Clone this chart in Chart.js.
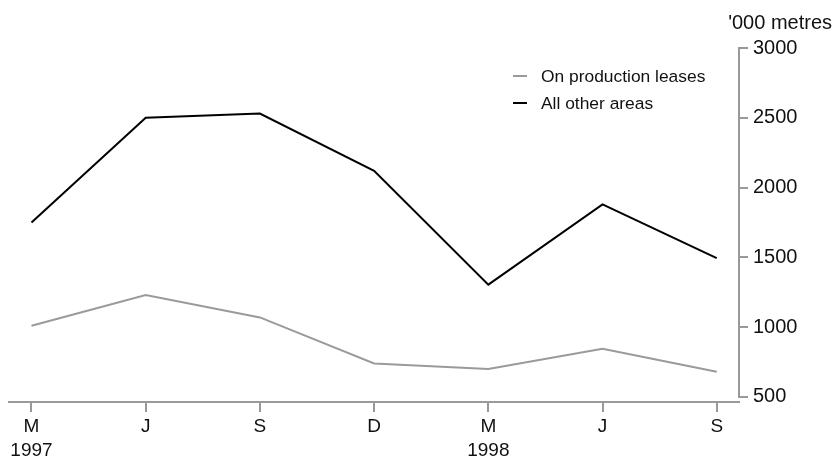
<!DOCTYPE html>
<html>
<head>
<meta charset="utf-8">
<script src="https://cdn.jsdelivr.net/npm/chart.js@4.4.0/dist/chart.umd.min.js"></script>
<style>
  html, body { margin: 0; padding: 0; background: #fff; }
  #wrap { width: 835px; height: 460px; position: relative; }
</style>
</head>
<body>
<div id="wrap"><canvas id="myChart"></canvas></div>
<script>
// chart data
var months = ["M", "J", "S", "D", "M", "J", "S"];
var years = ["1997", "", "", "", "1998", "", ""];
var leases = [1010, 1230, 1070, 740, 700, 845, 680];   // On production leases
var otherAreas = [1750, 2500, 2530, 2120, 1305, 1880, 1495]; // All other areas
var yTicks = [500, 1000, 1500, 2000, 2500, 3000];

var axisGrey = "#999999";
var fontName = "'Liberation Sans', Arial, sans-serif";

function toPoints(arr) // index -> x
{
  return arr.map(function(v, i) { return { x: i, y: v }; });
}

// legend drawn at top right of the plot area
var legendPlugin = {
  id: "boxLegend",
  afterDraw: function(chart) {
    var ctx = chart.ctx;
    var area = chart.chartArea;
    var x = area.right - 226;
    var y = 76;
    ctx.save();
    ctx.font = "17.4px " + fontName;
    ctx.textBaseline = "middle";
    chart.data.datasets.forEach(function(ds, i) {
      var yy = y + i * 27;
      ctx.strokeStyle = ds.borderColor;
      ctx.lineWidth = 2;
      ctx.beginPath();
      ctx.moveTo(x, yy);
      ctx.lineTo(x + 14, yy);
      ctx.stroke();
      ctx.fillStyle = "#111";
      ctx.fillText(ds.label, x + 28, yy + 1);
    });
    ctx.restore();
  }
};

// y axis line only from first to last tick
var yLinePlugin = {
  id: "yLine",
  afterDraw: function(chart) {
    var s = chart.scales.y;
    var ctx = chart.ctx;
    ctx.save();
    ctx.strokeStyle = axisGrey;
    ctx.lineWidth = 2;
    ctx.beginPath();
    ctx.moveTo(s.left, s.getPixelForValue(yTicks[yTicks.length - 1]) - 1);
    ctx.lineTo(s.left, s.getPixelForValue(yTicks[0]) + 1);
    ctx.stroke();
    ctx.restore();
  }
};

var ctx = document.getElementById("myChart");
var myChart = new Chart(ctx, {
  type: "line",
  data: {
    datasets: [{
      label: "On production leases",
      data: toPoints(leases),
      borderColor: "#9a9a9a",
      borderWidth: 2,
      pointRadius: 0,
      tension: 0
    }, {
      label: "All other areas",
      data: toPoints(otherAreas),
      borderColor: "#000000",
      borderWidth: 2,
      pointRadius: 0,
      tension: 0
    }]
  },
  options: {
    responsive: true,
    maintainAspectRatio: false,
    animation: false,
    layout: { padding: { left: 9, right: 3, top: 0, bottom: 0 } },
    plugins: {
      legend: { display: false },
      tooltip: { enabled: false },
      title: {
        display: true,
        text: "'000 metres",
        align: "end",
        color: "#111",
        font: { family: fontName, size: 20, weight: "normal" },
        padding: { top: 11, bottom: 13 }
      }
    },
    scales: {
      x: {
        type: "linear",
        min: -0.197,
        max: 6.195,
        afterBuildTicks: function(scale) {
          scale.ticks = months.map(function(m, i) { return { value: i }; });
        },
        afterFit: function(scale) { scale.height = 58; },
        border: { display: true, color: axisGrey, width: 2 },
        grid: { drawOnChartArea: false, color: axisGrey, lineWidth: 2, tickLength: 10 },
        ticks: {
          color: "#111",
          padding: 2,
          maxRotation: 0,
          autoSkip: false,
          font: { family: fontName, size: 19, lineHeight: 1.3 },
          callback: function(value) {
            var i = Math.round(value);
            if (years[i]) return [months[i], years[i]];
            return months[i];
          }
        }
      },
      y: {
        position: "right",
        min: 464,
        max: 3000,
        afterBuildTicks: function(scale) {
          scale.ticks = yTicks.map(function(v) { return { value: v }; });
        },
        afterFit: function(scale) { scale.width = 93; },
        border: { display: false },
        grid: { drawOnChartArea: false, color: axisGrey, lineWidth: 2, tickLength: 9 },
        ticks: {
          color: "#111",
          padding: 5,
          font: { family: fontName, size: 20 },
          callback: function(value) { return String(value); }
        }
      }
    }
  },
  plugins: [legendPlugin, yLinePlugin]
});
</script>
</body>
</html>
